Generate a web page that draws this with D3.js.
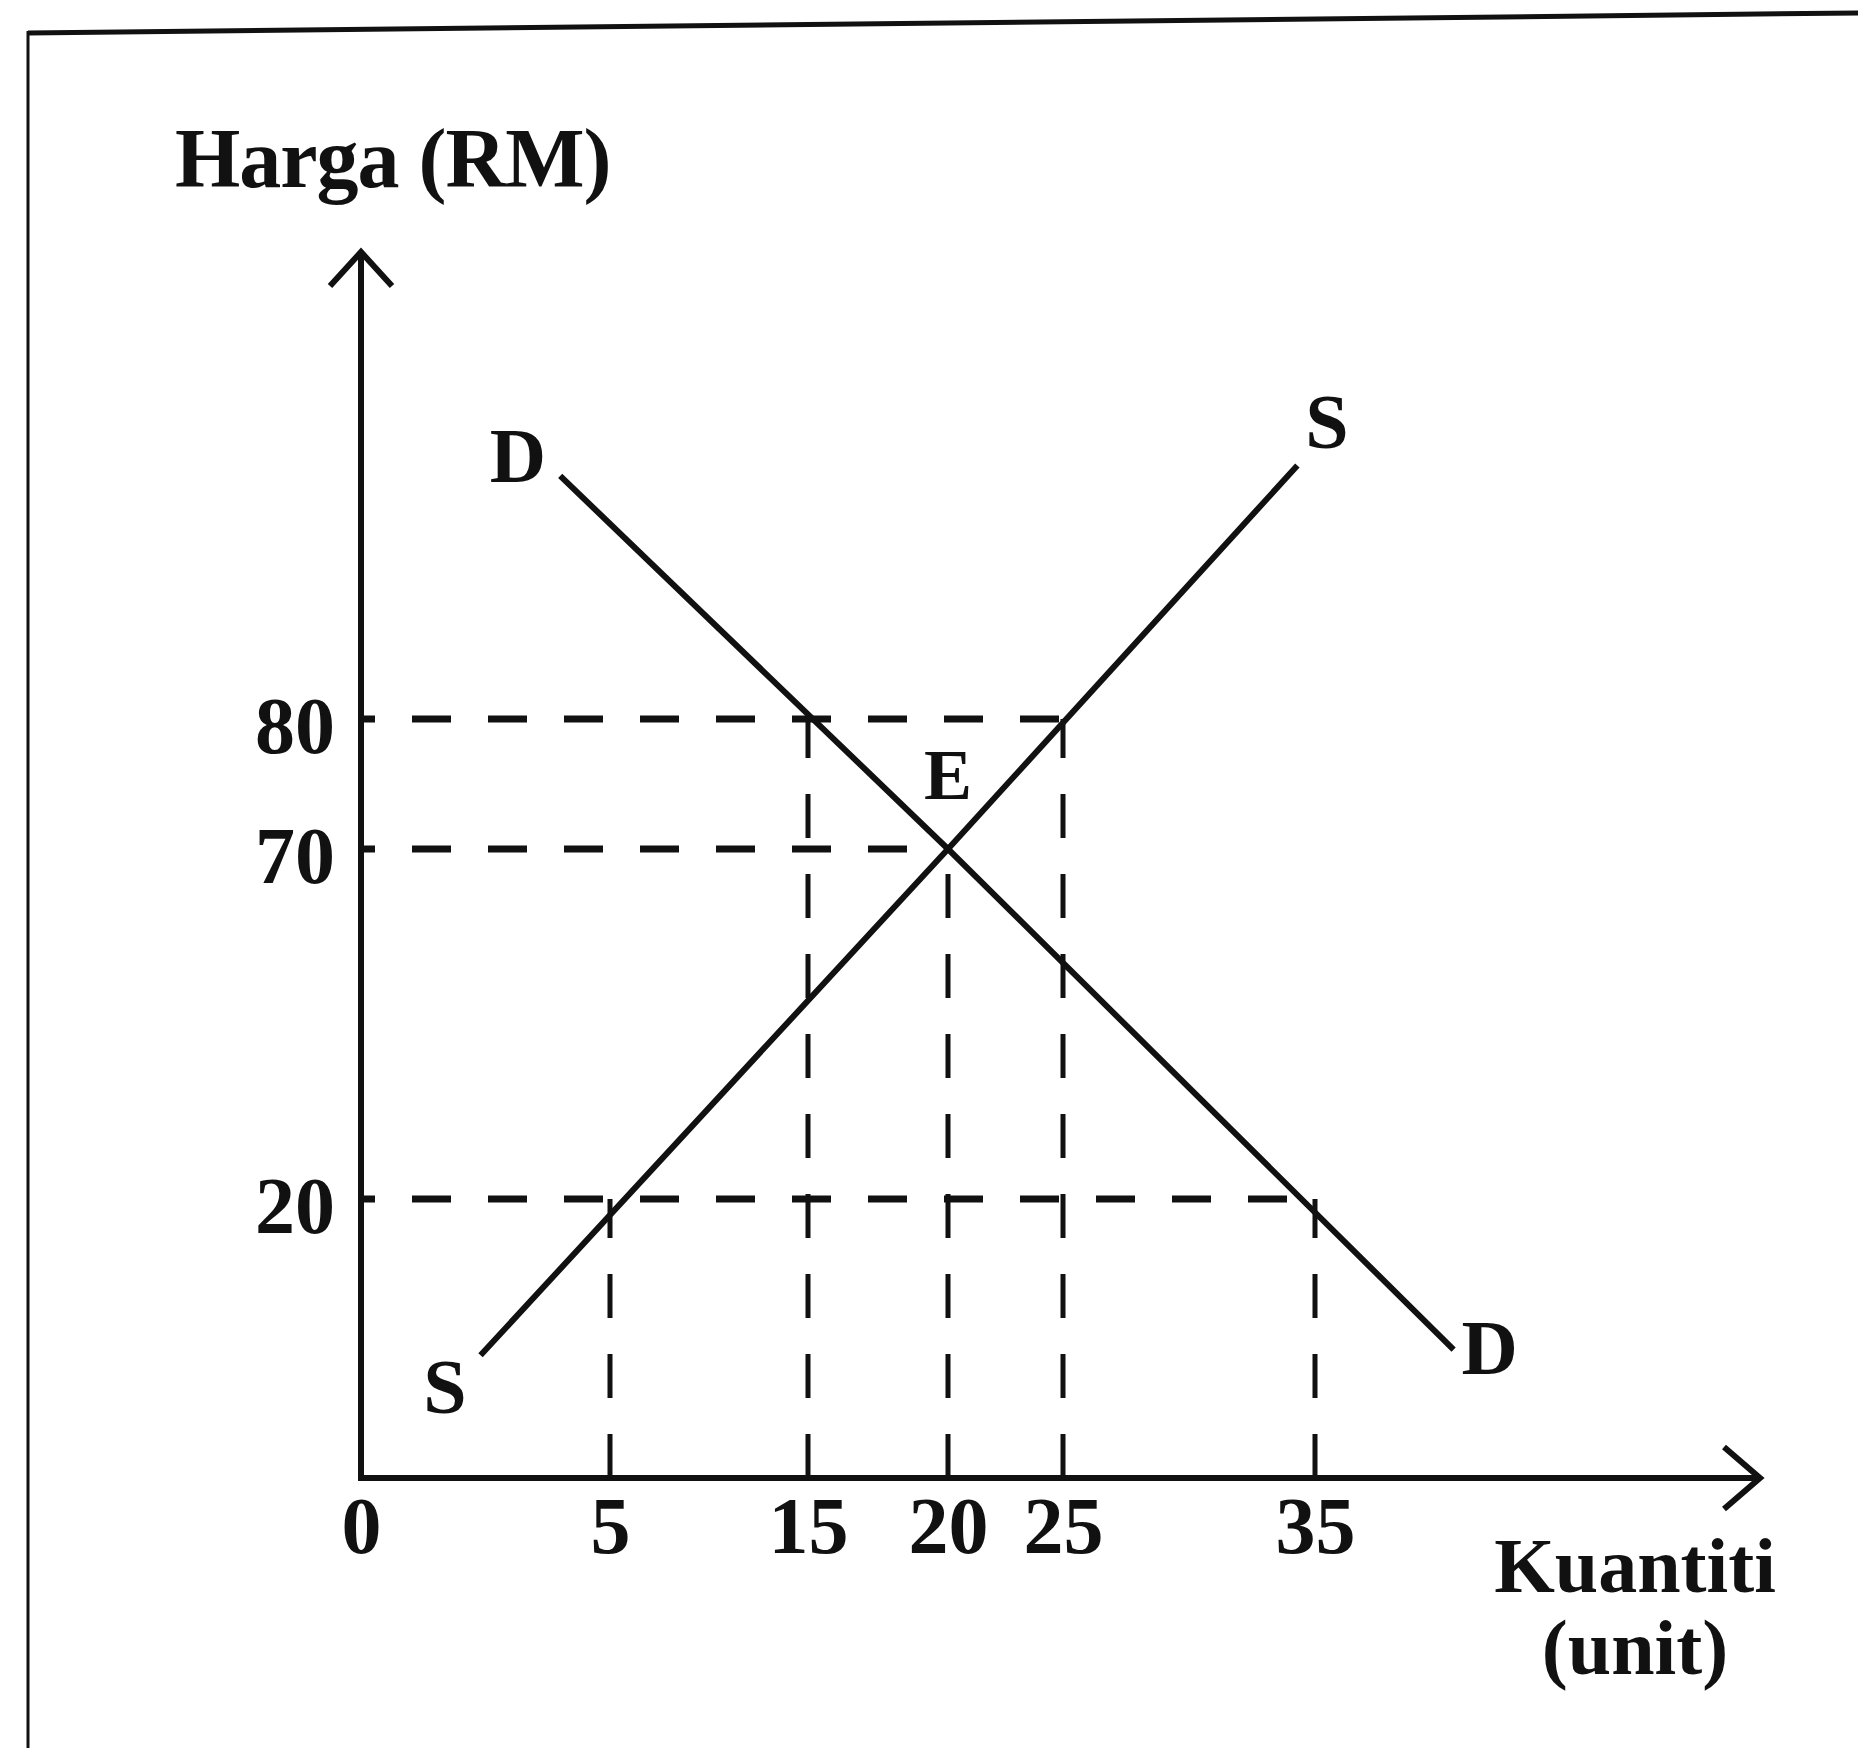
<!DOCTYPE html>
<html>
<head>
<meta charset="utf-8">
<script src="https://cdn.jsdelivr.net/npm/d3@7"></script>
<style>
  html, body { margin: 0; padding: 0; background: #fff; }
  svg text { font-family: "Liberation Serif", "DejaVu Serif", serif; font-weight: bold; fill: #111; }
</style>
</head>
<body>
<svg id="chart" width="1858" height="1748"></svg>
<script>
'use strict';

// axis ticks (schematic diagram, axis spacing is not uniform)
const qTicks = [0, 5, 15, 20, 25, 35];
const pTicks = [20, 70, 80];

// supply and demand lines, [quantity, price]
const supply = [[2.4, 8.8], [20, 70], [34.3, 99.5]];
const demand = [[4, 98.7], [20, 70], [40.5, 9.2]];

// dashed guides
const hGuides = [{p: 80, q: 25}, {p: 70, q: 20}, {p: 20, q: 35}];
const vGuides = [{q: 5, p: 20}, {q: 15, p: 80}, {q: 20, p: 70}, {q: 25, p: 80}, {q: 35, p: 20}];

const equilibrium = {q: 20, p: 70, label: "E"};

var svg = d3.select("#chart");

var x = d3.scaleLinear()
  .domain(qTicks)
  .range([361, 610, 808, 948, 1063, 1315]);

var y = d3.scaleLinear()
  .domain([0].concat(pTicks))
  .range([1478, 1199, 849, 719]);

var ink = "#111";

// frame of the scanned page
svg.append("line")
  .attr("x1", 28).attr("y1", 33).attr("x2", 1858).attr("y2", 13)
  .attr("stroke", ink).attr("stroke-width", 5);
svg.append("line")
  .attr("x1", 28).attr("y1", 31).attr("x2", 28).attr("y2", 1748)
  .attr("stroke", ink).attr("stroke-width", 3);

// dashed guides
svg.selectAll(".hguide")
  .data(hGuides)
  .enter().append("line")
    .attr("class", "hguide")
    .attr("x1", x(0)).attr("x2", d => x(d.q))
    .attr("y1", d => y(d.p)).attr("y2", d => y(d.p))
    .attr("stroke", ink).attr("stroke-width", 7)
    .attr("stroke-dasharray", "39 37")
    .attr("stroke-dashoffset", 25);

svg.selectAll(".vguide")
  .data(vGuides)
  .enter().append("line")
    .attr("class", "vguide")
    .attr("x1", d => x(d.q)).attr("x2", d => x(d.q))
    .attr("y1", y(0)).attr("y2", d => y(d.p))
    .attr("stroke", ink).attr("stroke-width", 5)
    .attr("stroke-dasharray", "44 36");

// axes with arrows
var yTip = 252, xTip = 1760;
svg.append("path")
  .attr("d", "M" + x(0) + "," + y(0) + "V" + yTip + "M" + (x(0) - 31) + "," + (yTip + 34) + "L" + x(0) + "," + yTip + "L" + (x(0) + 31) + "," + (yTip + 34))
  .attr("fill", "none").attr("stroke", ink).attr("stroke-width", 6)
  .attr("stroke-linejoin", "miter");
svg.append("path")
  .attr("d", "M" + (x(0) - 3) + "," + y(0) + "H" + xTip + "M" + (xTip - 36) + "," + (y(0) - 31) + "L" + xTip + "," + y(0) + "L" + (xTip - 36) + "," + (y(0) + 31))
  .attr("fill", "none").attr("stroke", ink).attr("stroke-width", 6);

// tick labels through d3 axes
var xAxis = svg.append("g")
  .attr("transform", "translate(0," + y(0) + ")")
  .call(d3.axisBottom(x).tickValues(qTicks).tickSize(0).tickPadding(0).tickFormat(d3.format("d")));
xAxis.select(".domain").remove();
xAxis.selectAll("text")
  .attr("dy", null).attr("y", 75)
  .style("font-size", "80px").attr("fill", ink);

var yAxis = svg.append("g")
  .attr("transform", "translate(" + x(0) + ",0)")
  .call(d3.axisLeft(y).tickValues(pTicks).tickSize(0).tickPadding(0).tickFormat(d3.format("d")));
yAxis.select(".domain").remove();
yAxis.selectAll("text")
  .attr("dy", null).attr("x", -26).attr("y", 33)
  .style("font-size", "80px").attr("fill", ink);

// curves
var line = d3.line()
  .x(d => x(d[0]))
  .y(d => y(d[1]));

svg.append("path").datum(supply)
  .attr("d", line)
  .attr("fill", "none").attr("stroke", ink).attr("stroke-width", 6)
  .attr("stroke-linejoin", "round");
svg.append("path").datum(demand)
  .attr("d", line)
  .attr("fill", "none").attr("stroke", ink).attr("stroke-width", 6)
  .attr("stroke-linejoin", "round");

// curve labels
function curveLabel(pt, txt, dx, dy, anchor) {
  svg.append("text")
    .attr("x", x(pt[0]) + dx).attr("y", y(pt[1]) + dy)
    .attr("text-anchor", anchor)
    .style("font-size", "78px")
    .text(txt);
}
curveLabel(supply[0], "S", -14, 58, "end");
curveLabel(supply[supply.length - 1], "S", 8, -18, "start");
curveLabel(demand[0], "D", -14, 6, "end");
curveLabel(demand[demand.length - 1], "D", 8, 24, "start");

svg.append("text")
  .attr("x", x(equilibrium.q)).attr("y", y(equilibrium.p) - 50)
  .attr("text-anchor", "middle")
  .style("font-size", "72px")
  .text(equilibrium.label);

// axis titles
svg.append("text")
  .attr("x", 175).attr("y", 187)
  .style("font-size", "84px").style("letter-spacing", "-1px")
  .text("Harga (RM)");

svg.append("text")
  .attr("x", 1635).attr("y", 1592)
  .attr("text-anchor", "middle")
  .style("font-size", "78px")
  .text("Kuantiti");
svg.append("text")
  .attr("x", 1635).attr("y", 1674)
  .attr("text-anchor", "middle")
  .style("font-size", "78px")
  .text("(unit)");
</script>
</body>
</html>
